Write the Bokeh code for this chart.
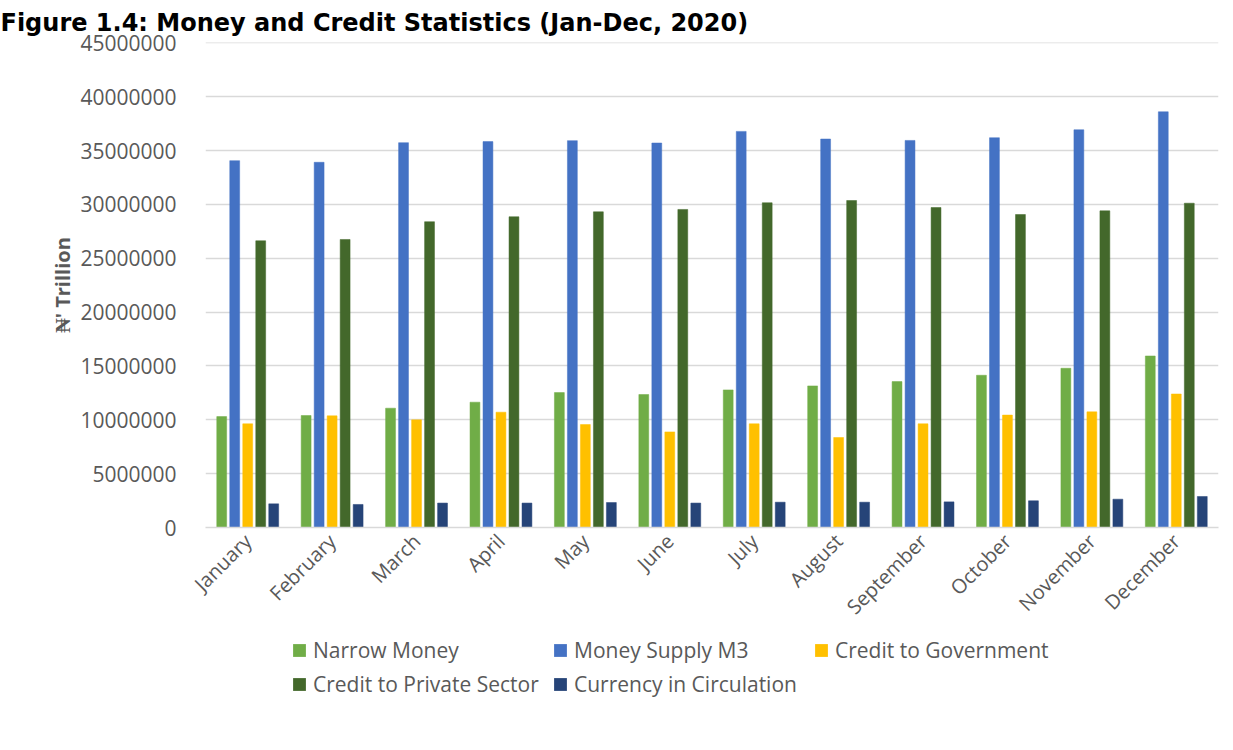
import math
from bokeh.plotting import figure
from bokeh.layouts import column
from bokeh.models import (ColumnDataSource, Range1d, FixedTicker, BasicTickFormatter,
                          Legend, LegendItem)
from bokeh.transform import dodge
from bokeh.embed import file_html
from bokeh.resources import INLINE

months = ["January", "February", "March", "April", "May", "June", "July",
          "August", "September", "October", "November", "December"]
narrow_money = [10300000, 10400000, 11080000, 11640000, 12530000, 12350000,
                12780000, 13150000, 13550000, 14140000, 14790000, 15930000]
money_supply_m3 = [34070000, 33920000, 35740000, 35840000, 35930000, 35710000,
                   36790000, 36080000, 35950000, 36200000, 36940000, 38610000]
credit_government = [9630000, 10370000, 10000000, 10710000, 9560000, 8880000,
                     9630000, 8360000, 9630000, 10440000, 10740000, 12400000]
credit_private = [26630000, 26750000, 28400000, 28860000, 29320000, 29540000,
                  30160000, 30370000, 29720000, 29070000, 29410000, 30120000]
currency_circulation = [2200000, 2140000, 2270000, 2270000, 2320000, 2270000,
                        2350000, 2350000, 2380000, 2480000, 2630000, 2880000]
y_ticks = [0, 5000000, 10000000, 15000000, 20000000, 25000000,
           30000000, 35000000, 40000000, 45000000]

series = [
    ("Narrow Money", "nm", narrow_money, "#70AD47"),
    ("Money Supply M3", "m3", money_supply_m3, "#4472C4"),
    ("Credit to Government", "cg", credit_government, "#FFC000"),
    ("Credit to Private Sector", "cps", credit_private, "#43682B"),
    ("Currency in Circulation", "cc", currency_circulation, "#264478"),
]

data = {"month": months}
for name, key, vals, col in series:
    data[key] = vals
source = ColumnDataSource(data)

TXT = "#595959"
GRID = "#D9D9D9"

# ---------------- main chart ----------------
p = figure(x_range=months, y_range=Range1d(0, 45045000),
           width=1225, height=634, output_backend="svg", toolbar_location=None,
           min_border_left=205, min_border_right=7, min_border_top=42,
           min_border_bottom=107)
p.background_fill_color = "white"
p.border_fill_color = "white"
p.outline_line_color = None

p.title.text = "Figure 1.4: Money and Credit Statistics (Jan-Dec, 2020)"
p.title.text_font = "DejaVu Sans"
p.title.text_font_style = "bold"
p.title.text_font_size = "24px"
p.title.text_color = "black"
p.title.align = "left"
p.title.offset = -205
p.title.standoff = 12

offsets = [-0.308, -0.154, 0.0, 0.154, 0.308]
for (name, key, vals, col), off in zip(series, offsets):
    p.vbar(x=dodge("month", off, range=p.x_range), top=key, width=0.117,
           source=source, fill_color=col, line_color=col, line_width=0.5)

p.xgrid.grid_line_color = None
p.ygrid.grid_line_color = GRID
p.ygrid.grid_line_width = 1.3

p.yaxis.ticker = FixedTicker(ticks=y_ticks)
p.yaxis.formatter = BasicTickFormatter(use_scientific=False)
p.yaxis.axis_line_color = None
p.yaxis.major_tick_line_color = None
p.yaxis.minor_tick_line_color = None
p.yaxis.major_label_standoff = 23
p.yaxis.major_label_text_font = "Open Sans"
p.yaxis.major_label_text_font_size = "21px"
p.yaxis.major_label_text_color = TXT
p.yaxis.axis_label = "\u20a6' Trillion"
p.yaxis.axis_label_text_font = "Open Sans"
p.yaxis.axis_label_text_font_style = "bold"
p.yaxis.axis_label_text_font_size = "20px"
p.yaxis.axis_label_text_color = TXT
p.yaxis.axis_label_standoff = 1

p.xaxis.axis_line_color = GRID
p.xaxis.axis_line_width = 1.3
p.xaxis.major_tick_line_color = None
p.xaxis.minor_tick_line_color = None
p.xaxis.major_label_orientation = math.pi / 4
p.xaxis.major_label_standoff = 4
p.xaxis.major_label_text_font = "Open Sans"
p.xaxis.major_label_text_font_size = "20px"
p.xaxis.major_label_text_color = TXT

# ---------------- legend strip ----------------
# (zero-size bars far outside the visible y range; they only supply the swatches)
p2 = figure(x_range=months, y_range=Range1d(1000000000, 1100000000),
            width=1225, height=108, output_backend="svg", toolbar_location=None,
            x_axis_location=None, y_axis_location=None,
            min_border_left=205, min_border_top=0, min_border_right=7,
            min_border_bottom=44)
p2.grid.visible = False
p2.outline_line_color = None
p2.background_fill_color = "white"
p2.border_fill_color = "white"

items = []
for name, key, vals, col in series:
    r = p2.vbar(x="month", top=key, bottom=key, width=0, source=source,
                fill_color=col, line_color=None)
    items.append(LegendItem(label=name, renderers=[r]))

legend = Legend(items=items, orientation="horizontal", ncols=3,
                location=(86, 0), padding=0, margin=0, spacing=6,
                glyph_width=16, glyph_height=16, label_standoff=6,
                label_width=233,
                label_text_font="Open Sans", label_text_font_size="21px",
                label_text_color=TXT, border_line_color=None,
                background_fill_alpha=0)
p2.add_layout(legend, "center")

layout = column(p, p2, spacing=0)
open("out.html", "w").write(file_html(layout, INLINE))
